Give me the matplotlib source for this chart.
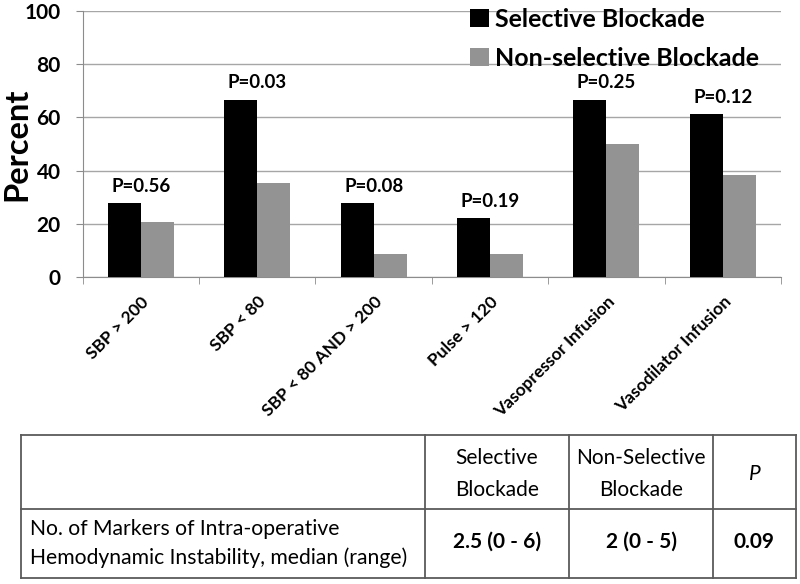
import matplotlib.pyplot as plt
import numpy as np

plt.rcParams['font.family'] = ['Lato', 'DejaVu Sans']

# ===========================
# Data
# ===========================
categories = ["SBP > 200", "SBP < 80", "SBP < 80 AND > 200",
              "Pulse > 120", "Vasopressor Infusion", "Vasodilator Infusion"]
selective = [27.8, 66.7, 27.8, 22.2, 66.7, 61.1]
non_selective = [20.6, 35.3, 8.8, 8.8, 50.0, 38.2]
p_values = ["P=0.56", "P=0.03", "P=0.08", "P=0.19", "P=0.25", "P=0.12"]

table_header = ["", "Selective\nBlockade", "Non-Selective\nBlockade", "P"]
table_row = ["No. of Markers of Intra-operative\nHemodynamic Instability, median (range)",
             "2.5 (0 - 6)", "2 (0 - 5)", "0.09"]

# ===========================
# Figure
# ===========================
W, H = 800, 584
fig = plt.figure(figsize=(W / 100, H / 100), dpi=100)
ax = fig.add_axes([82.7 / W, 1 - 277 / H, (781 - 82.7) / W, (277 - 11) / H])

x = np.arange(len(categories))
bw = 0.284
ax.bar(x - bw / 2, selective, bw, color="black", label="Selective Blockade", zorder=3)
ax.bar(x + bw / 2, non_selective, bw, color="#939393", label="Non-selective Blockade", zorder=3)

for i, p in enumerate(p_values):
    ax.annotate(p, (x[i], max(selective[i], non_selective[i])), xytext=(0, 8),
                textcoords="offset points", ha="center", va="baseline",
                fontsize=13.5, fontweight="bold")

ax.set_xlim(-0.5, len(categories) - 0.5)
ax.set_ylim(0, 100)
ax.set_yticks(range(0, 101, 20))
ax.yaxis.grid(True, color="#a6a6a6", linewidth=1, zorder=0)
ax.set_axisbelow(True)

for s in ["top", "right"]:
    ax.spines[s].set_visible(False)
for s in ["left", "bottom"]:
    ax.spines[s].set_color("#8c8c8c")

ax.set_xticks(x)
ax.set_xticklabels(categories, rotation=45, ha="right", rotation_mode="anchor",
                   fontsize=12.5, fontweight="bold")
ax.tick_params(axis="x", length=0, pad=12)
ax.set_xticks(np.arange(-0.5, len(categories)), minor=True)
ax.tick_params(axis="x", which="minor", length=5, color="#8c8c8c")
ax.tick_params(axis="y", length=5, color="#8c8c8c", labelsize=15, pad=11)
for t in ax.get_yticklabels():
    t.set_fontweight("bold")

ax.set_ylabel("Percent", fontsize=23.5, fontweight="bold")
ax.yaxis.set_label_coords(-0.074, 0.5)

ax.legend(loc="upper left", bbox_to_anchor=(470 / W, 1 - 8 / H),
          bbox_transform=fig.transFigure, frameon=False, borderpad=0, borderaxespad=0,
          prop={"size": 18, "weight": "bold"}, handlelength=0.75, handleheight=0.75,
          handletextpad=0.25, labelspacing=0.62)

# ===========================
# Table below the chart
# ===========================
tax = fig.add_axes([0, 0, 1, 1])
tax.set_xlim(0, W)
tax.set_ylim(H, 0)
tax.axis("off")

col_x = [20.7, 425, 569, 713, 796]
row_y = [435, 509, 578]
line_kw = dict(color="#5a5a5a", linewidth=1.3)
for yy in row_y:
    tax.plot([col_x[0], col_x[-1]], [yy, yy], **line_kw)
for xx in col_x:
    tax.plot([xx, xx], [row_y[0], row_y[-1]], **line_kw)

for j in range(1, 4):
    cx = (col_x[j] + col_x[j + 1]) / 2
    tax.text(cx, (row_y[0] + row_y[1]) / 2 + 2, table_header[j], ha="center", va="center",
             fontsize=15, linespacing=1.7, style="italic" if j == 3 else "normal")
    tax.text(cx, (row_y[1] + row_y[2]) / 2 - 2, table_row[j], ha="center", va="center",
             fontsize=15, fontweight="bold")
tax.text(col_x[0] + 9, (row_y[1] + row_y[2]) / 2, table_row[0], ha="left", va="center",
         fontsize=15.2, linespacing=1.55)

fig.savefig("out.png", dpi=100)
